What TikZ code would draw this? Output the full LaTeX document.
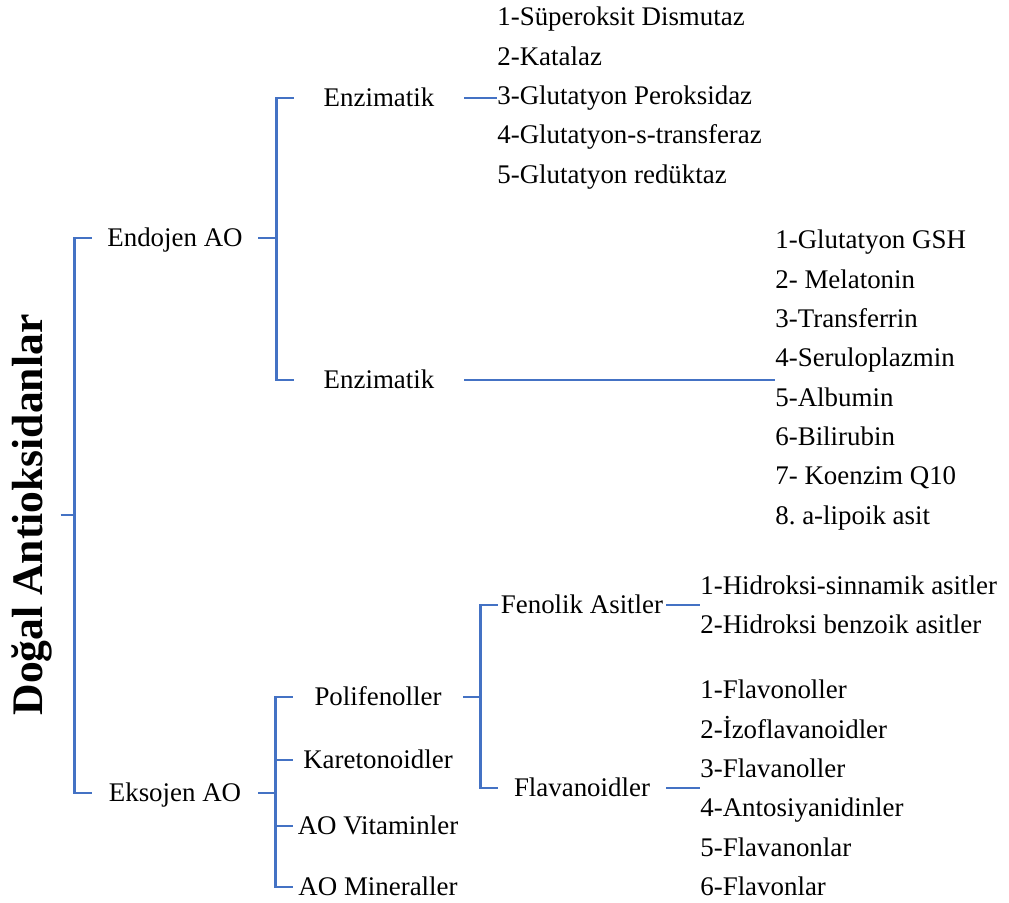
\documentclass[tikz,border=0pt]{standalone}
\usepackage{fontspec}
\setmainfont{Liberation Serif}
\usetikzlibrary{positioning}
\definecolor{aoblue}{HTML}{4472C4}
\frenchspacing

\begin{document}
\begin{tikzpicture}[x=0.5pt, y=-0.5pt,
        link/.style={draw=aoblue, line width=1.15pt},
        cell/.style={inner sep=0pt, minimum width=85pt, text height=8.9pt, text depth=0pt, font=\fontsize{13.45}{19.65}\selectfont},
        list/.style={inner sep=0pt, align=left, anchor=west, font=\fontsize{13.45}{19.65}\selectfont}]
        \useasboundingbox (0,0) rectangle (1009,903);

        \node [rotate=90, inner sep=4pt, font=\fontsize{21.8}{26}\selectfont\bfseries] (title) at (32,515) {Doğal Antioksidanlar};

        \node [cell, minimum width=83pt] (endo) at (175,238) {Endojen AO};
        \node [cell, minimum width=83pt] (exo) at (175,793) {Eksojen AO};

        \node [cell] (enz1) at (379,98) {Enzimatik};
        \node [cell] (enz2) at (379,380) {Enzimatik};
        \node [cell] (poly) at (378,697) {Polifenoller};
        \node [cell] (karo) at (378,760) {Karetonoidler};
        \node [cell] (vita) at (378,826) {AO Vitaminler};
        \node [cell] (mine) at (378,887) {AO Mineraller};
        \node [cell, minimum width=84pt] (fen) at (582,605) {Fenolik Asitler};
        \node [cell, minimum width=84pt] (flav) at (582,788) {Flavanoidler};

        \node [list] (enzl1) at (497,98) {1-Süperoksit Dismutaz\\2-Katalaz\\3-Glutatyon Peroksidaz\\4-Glutatyon-s-transferaz\\5-Glutatyon redüktaz};
        \node [list] (enzl2) at (775,380) {1-Glutatyon GSH\\2- Melatonin\\3-Transferrin\\4-Seruloplazmin\\5-Albumin\\6-Bilirubin\\7- Koenzim Q10\\8. a-lipoik asit};
        \node [list] (fenl) at (700,605) {1-Hidroksi-sinnamik asitler\\2-Hidroksi benzoik asitler};
        \node [list] (flavl) at (700,788) {1-Flavonoller\\2-İzoflavanoidler\\3-Flavanoller\\4-Antosiyanidinler\\5-Flavanonlar\\6-Flavonlar};

        \draw [link] (endo.west) -- ++(-17,0) coordinate (rootS) |- (exo.west);
        \draw [link] (title.south) -- (title.south -| rootS);

        \draw [link] (enz1.west) -- ++(-17,0) coordinate (endoS) |- (enz2.west);
        \draw [link] (endo.east) -- (endo.east -| endoS);

        \draw [link] (poly.west) -- ++(-17,0) coordinate (exoS) |- (mine.west);
        \draw [link] (karo.west) -- (karo.west -| exoS);
        \draw [link] (vita.west) -- (vita.west -| exoS);
        \draw [link] (exo.east) -- (exo.east -| exoS);

        \draw [link] (fen.west) -- ++(-17,0) coordinate (polyS) |- (flav.west);
        \draw [link] (poly.east) -- (poly.east -| polyS);

        \draw [link] (enz1.east) -- (enzl1.west);
        \draw [link] (enz2.east) -- (enzl2.west);
        \draw [link] (fen.east) -- (fenl.west);
        \draw [link] (flav.east) -- (flavl.west);
\end{tikzpicture}
\end{document}
